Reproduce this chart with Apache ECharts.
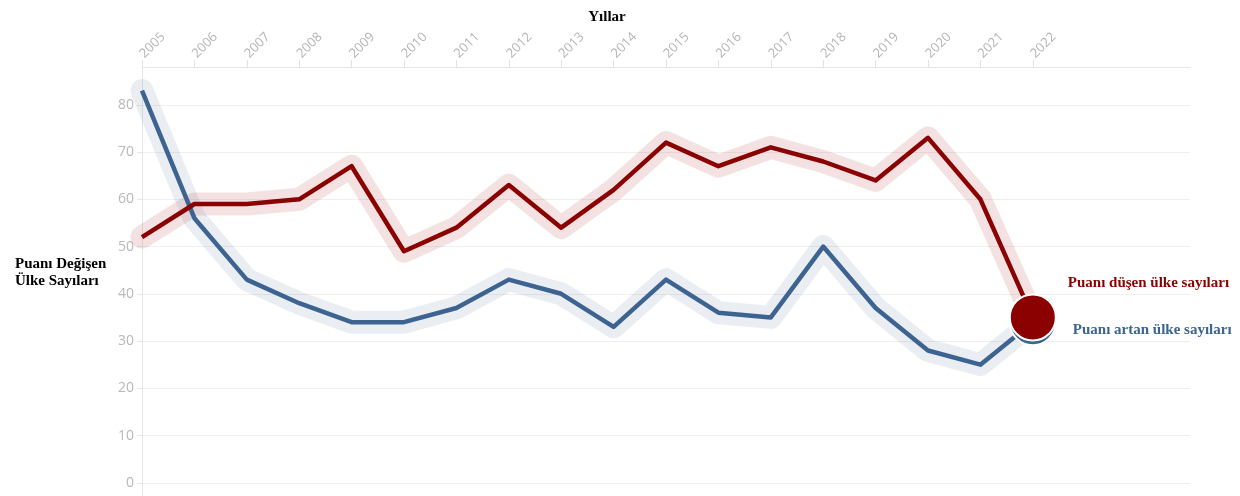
<!DOCTYPE html>
<html>
<head>
<meta charset="utf-8">
<script src="https://cdn.jsdelivr.net/npm/echarts@6/dist/echarts.min.js"></script>
<style>
  html, body { margin: 0; padding: 0; background: #fff; }
  #grafica { width: 1240px; height: 496px; }
</style>
</head>
<body>
<div id="grafica"></div>
<script>
// years with data, plus empty room on the right of the axis
const years = ["2005", "2006", "2007", "2008", "2009", "2010", "2011", "2012", "2013",
  "2014", "2015", "2016", "2017", "2018", "2019", "2020", "2021", "2022"];
const extraCats = ["2023", "2024", "2025"];

const dusen = [52, 59, 59, 60, 67, 49, 54, 63, 54, 62, 72, 67, 71, 68, 64, 73, 60, 35];
const artan = [83, 56, 43, 38, 34, 34, 37, 43, 40, 33, 43, 36, 35, 50, 37, 28, 25, 34];

const nameDusen = "Puanı düşen ülke sayıları";
const nameArtan = "Puanı artan ülke sayıları";

const rojo = "#8b0000";
const azul = "#3d6390";

const conPunto = (arr, color, nombre, offset) => arr.map((v, i) => {
  if (i < arr.length - 1) return v;
  return {
    value: v,
    symbol: "circle",
    symbolSize: 46,
    itemStyle: { color: color, borderColor: "#fff", borderWidth: 2 },
    label: {
      show: true,
      position: "right",
      distance: 0,
      offset: offset,
      formatter: nombre,
      color: color,
      fontFamily: "Liberation Serif",
      fontWeight: "bold",
      fontSize: 15
    }
  };
});

const halo = (arr, color) => ({
  type: "line",
  data: arr,
  symbol: "none",
  silent: true,
  clip: false,
  z: 1,
  lineStyle: { color: color, width: 23, join: "round", cap: "round" }
});

const linea = (arr, color, nombre, offset) => ({
  type: "line",
  name: nombre,
  data: conPunto(arr, color, nombre, offset),
  symbol: "none",
  z: 3,
  lineStyle: { color: color, width: 4.5, join: "round" }
});

const chart = echarts.init(document.querySelector("#grafica"));
chart.setOption({
  animation: false,
  backgroundColor: "#fff",
  title: [
    {
      text: "Yıllar",
      left: 602,
      top: 5,
      textAlign: "center",
      textStyle: { fontFamily: "Liberation Serif", fontWeight: "bold", fontSize: 15, color: "#000" }
    },
    {
      text: "Puanı Değişen\nÜlke Sayıları",
      left: 10,
      top: 251,
      textStyle: { fontFamily: "Liberation Serif", fontWeight: "bold", fontSize: 15, color: "#000", lineHeight: 17 }
    }
  ],
  grid: { left: 142, right: 50, top: 67, bottom: 0, containLabel: false },
  xAxis: {
    type: "category",
    position: "top",
    boundaryGap: false,
    data: years.concat(extraCats),
    axisLine: { show: true, onZero: false, lineStyle: { color: "#e6e6e6" } },
    axisTick: {
      show: true,
      length: 7,
      interval: (i) => i < years.length,
      lineStyle: { color: "#e3e3e3" }
    },
    axisLabel: {
      rotate: -45,
      interval: (i) => i < years.length,
      color: "#b5b5b5",
      fontFamily: "Open Sans",
      fontSize: 13,
      margin: 11
    },
    splitLine: { show: false }
  },
  yAxis: {
    type: "value",
    min: -2.8,
    max: 88,
    minInterval: 10,
    maxInterval: 10,
    axisLine: { show: true, lineStyle: { color: "#e6e6e6" } },
    axisTick: { show: true, length: 5, lineStyle: { color: "#e6e6e6" } },
    axisLabel: {
      showMinLabel: false,
      showMaxLabel: false,
      color: "#b9b9b9",
      fontFamily: "Open Sans",
      fontSize: 14,
      margin: 8
    },
    splitLine: { show: true, lineStyle: { color: "#efefef" } }
  },
  series: [
    halo(artan, "rgba(61,99,144,0.11)"),
    halo(dusen, "rgba(170,30,30,0.13)"),
    linea(artan, azul, nameArtan, [16, 8]),
    linea(dusen, rojo, nameDusen, [11, -34])
  ]
});
</script>
</body>
</html>
